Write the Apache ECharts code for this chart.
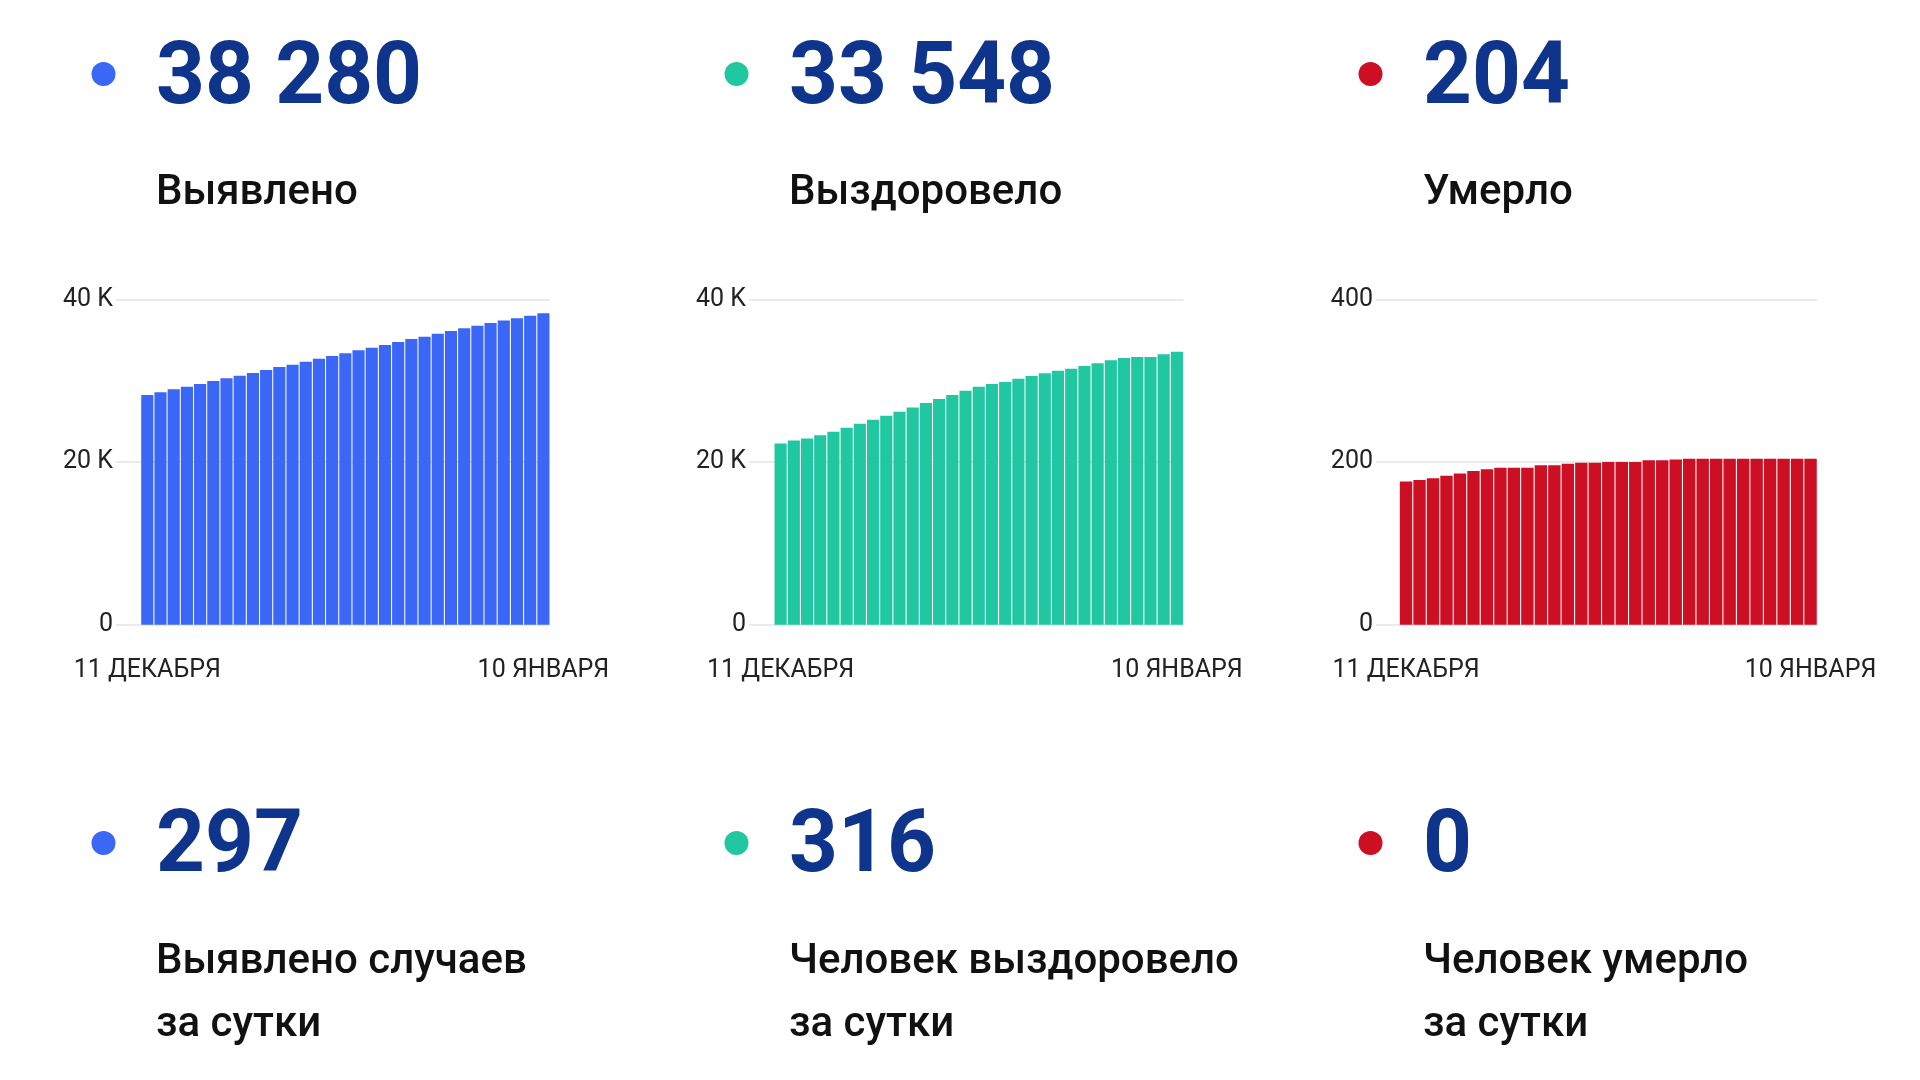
<!DOCTYPE html>
<html>
<head>
<meta charset="utf-8">
<script src="https://cdn.jsdelivr.net/npm/echarts@6/dist/echarts.min.js"></script>
<style>
html,body{margin:0;padding:0;background:#fff;}
#c{width:1920px;height:1080px;}
</style>
</head>
<body>
<div id="c"></div>
<script>
// ---- data ----
const categories = [
  '11 ДЕКАБРЯ','12 ДЕКАБРЯ','13 ДЕКАБРЯ','14 ДЕКАБРЯ','15 ДЕКАБРЯ','16 ДЕКАБРЯ','17 ДЕКАБРЯ',
  '18 ДЕКАБРЯ','19 ДЕКАБРЯ','20 ДЕКАБРЯ','21 ДЕКАБРЯ','22 ДЕКАБРЯ','23 ДЕКАБРЯ','24 ДЕКАБРЯ',
  '25 ДЕКАБРЯ','26 ДЕКАБРЯ','27 ДЕКАБРЯ','28 ДЕКАБРЯ','29 ДЕКАБРЯ','30 ДЕКАБРЯ','31 ДЕКАБРЯ',
  '1 ЯНВАРЯ','2 ЯНВАРЯ','3 ЯНВАРЯ','4 ЯНВАРЯ','5 ЯНВАРЯ','6 ЯНВАРЯ','7 ЯНВАРЯ','8 ЯНВАРЯ',
  '9 ЯНВАРЯ','10 ЯНВАРЯ'
];
const detected = [28230,28560,28930,29250,29580,29950,30280,30610,30940,31310,31680,31960,32330,32700,
  33030,33360,33730,34050,34380,34750,35120,35410,35780,36110,36430,36760,37090,37380,37670,37983,38280];
const recovered = [22280,22650,22900,23300,23720,24210,24700,25190,25690,26180,26710,27240,27740,28230,
  28760,29250,29580,29830,30240,30570,30900,31220,31470,31800,32130,32500,32780,32910,32910,33232,33548];
const deaths = [176,178,180,183,186,189,191,193,193,193,196,196,198,199,199,200,200,200,202,202,203,
  204,204,204,204,204,204,204,204,204,204];
const totalValues = ['38 280','33 548','204'];
const totalLabels = ['Выявлено','Выздоровело','Умерло'];
const dailyValues = ['297','316','0'];
const dailyLabels = ['Выявлено случаев\nза сутки','Человек выздоровело\nза сутки','Человек умерло\nза сутки'];

// ---- styles ----
const colors = ['#3b67f6','#21c7a0','#cc0f23'];
const numColor = '#0e348c';
const FONT = 'Roboto, "Noto Sans", sans-serif';

const panels = [
  {outerLeft:116, innerLeft:140.7, innerWidth:409.3, data:detected, max:40000, interval:20000},
  {outerLeft:749, innerLeft:774, innerWidth:409.5, data:recovered, max:40000, interval:20000},
  {outerLeft:1376, innerLeft:1399.3, innerWidth:418, data:deaths, max:400, interval:200}
];
const gridTop = 299.3, gridHeight = 325.4;

const grids = [], xAxes = [], yAxes = [], seriesList = [];
panels.forEach((p, i) => {
  const outerRight = p.innerLeft + p.innerWidth;
  grids.push({left:p.outerLeft, top:gridTop, width:outerRight - p.outerLeft, height:gridHeight});
  grids.push({left:p.innerLeft, top:gridTop, width:p.innerWidth, height:gridHeight});
  const go = 2*i, gi = 2*i+1;
  xAxes.push({gridIndex:go, type:'category', data:categories, show:false});
  xAxes.push({gridIndex:gi, type:'category', data:categories,
    axisLine:{show:false}, axisTick:{show:false},
    axisLabel:{interval:(idx)=> idx===0 || idx===categories.length-1, margin:34,
      color:'#222', fontSize:25, fontFamily:FONT}});
  yAxes.push({gridIndex:go, type:'value', min:0, max:p.max, interval:p.interval,
    axisLine:{show:false}, axisTick:{show:false},
    splitLine:{show:true, lineStyle:{color:'#ebebeb', width:2}},
    axisLabel:{margin:3, color:'#222', fontSize:25, fontFamily:FONT, padding:[8,0,0,0],
      formatter:(v)=> v===0 ? '0' : (v>=1000 ? (v/1000)+' K' : String(v))}});
  yAxes.push({gridIndex:gi, type:'value', min:0, max:p.max, interval:p.interval, show:false,
    splitLine:{show:false}});
  seriesList.push({type:'bar', xAxisIndex:gi, yAxisIndex:gi, data:p.data,
    barCategoryGap:'8%', itemStyle:{color:colors[i]}, silent:true, animation:false});
});

const colX = [156, 789, 1423];
const dotX = [103.5, 736.5, 1370.5];
const graphicList = [];
for (let i = 0; i < 3; i++) {
  graphicList.push({type:'circle', shape:{cx:dotX[i], cy:74, r:12}, style:{fill:colors[i]}});
  graphicList.push({type:'circle', shape:{cx:dotX[i], cy:843, r:12}, style:{fill:colors[i]}});
  graphicList.push({type:'text', x:colX[i], y:81, scaleX:0.97, style:{text:totalValues[i], fill:numColor,
    font:'bold 88px ' + FONT, textVerticalAlign:'middle', verticalAlign:'middle'}});
  graphicList.push({type:'text', x:colX[i], y:193, style:{text:totalLabels[i], fill:'#111',
    font:'500 42px ' + FONT, textVerticalAlign:'middle', verticalAlign:'middle'}});
  graphicList.push({type:'text', x:colX[i], y:849, scaleX:0.97, style:{text:dailyValues[i], fill:numColor,
    font:'bold 88px ' + FONT, textVerticalAlign:'middle', verticalAlign:'middle'}});
  graphicList.push({type:'text', x:colX[i], y:930.5, style:{text:dailyLabels[i], fill:'#111',
    font:'500 42px ' + FONT, lineHeight:63.5, textVerticalAlign:'top', verticalAlign:'top'}});
}

const chart = echarts.init(document.getElementById('c'), null, {renderer:'canvas'});
chart.setOption({
  animation:false,
  backgroundColor:'#ffffff',
  grid:grids, xAxis:xAxes, yAxis:yAxes, series:seriesList, graphic:graphicList
});
</script>
</body>
</html>
